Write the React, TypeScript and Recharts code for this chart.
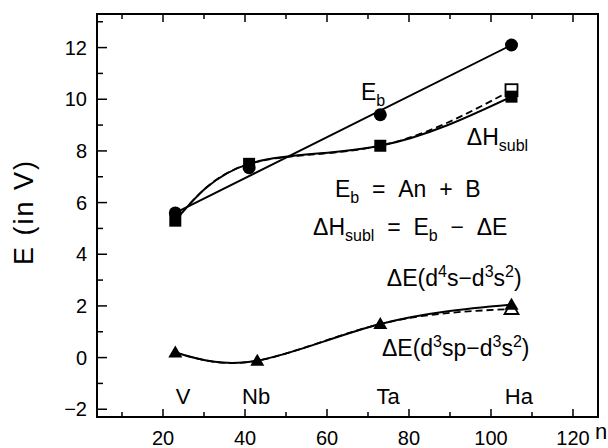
import { ComposedChart, Line, XAxis, YAxis, ReferenceDot, Label } from 'recharts';

// element positions (atomic number n)
const elementN = [23, 41, 73, 105];
const ebValues = [5.6, 7.35, 9.4, 12.1];
const fitN = [23, 105];
const fitValues = [5.6, 12.1];
const sublValues = [5.3, 7.5, 8.2, 10.1];
const sublAltValues = [5.3, 7.5, 8.2, 10.35];
const deN = [23, 43, 73, 105];
const deValues = [0.2, -0.12, 1.3, 2.05];
const deAltValues = [0.2, -0.12, 1.3, 1.88];

const elementLabels = ['V', 'Nb', 'Ta', 'Ha'];
const elementLabelN = [24.9, 42.7, 74.9, 106.8];
const elementLabelY = -1.5;

const xDomain = [3.9, 126.1];
const yDomain = [-2.3, 13.3];
const xTicks = [10, 20, 30, 40, 50, 60, 70, 80, 90, 100, 110, 120];
const yTicks = [-2, -1, 0, 1, 2, 3, 4, 5, 6, 7, 8, 9, 10, 11, 12, 13];

// annotation text: [text, level] level 0 normal, -1 subscript, 1 superscript
const noteN = [68.3, 94.1, 61.95, 56.6, 74.6, 73.4];
const noteY = [9.96, 8.22, 6.21, 4.74, 2.77, 0.06];
const noteText: [string, number][][] = [
  [['E', 0], ['b', -1]],
  [['ΔH', 0], ['subl', -1]],
  [['E', 0], ['b', -1], ['\u00a0\u00a0=\u00a0\u00a0An\u00a0\u00a0+\u00a0\u00a0B', 0]],
  [['ΔH', 0], ['subl', -1], ['\u00a0\u00a0=\u00a0\u00a0E', 0], ['b', -1], ['\u00a0\u00a0−\u00a0\u00a0ΔE', 0]],
  [['ΔE(d', 0], ['4', 1], ['s−d', 0], ['3', 1], ['s', 0], ['2', 1], [')', 0]],
  [['ΔE(d', 0], ['3', 1], ['sp−d', 0], ['3', 1], ['s', 0], ['2', 1], [')', 0]],
];

const font = '"Liberation Sans", Arial, sans-serif';
const PLOT_TOP = 14;

const pts = (ns: number[], vs: number[]) => ns.map((n, i) => ({ n, v: vs[i] }));

const circleDot = (p: any) => <circle key={p.index} cx={p.cx} cy={p.cy} r={6.5} fill="#000" />;
const squareDot = (p: any) => (
  <rect key={p.index} x={p.cx - 6} y={p.cy - 6} width={12} height={12} fill="#000" />
);
const triPath = (cx: number, cy: number) =>
  `M${cx},${cy - 7} L${cx + 7},${cy + 5} L${cx - 7},${cy + 5} Z`;
const triDot = (p: any) => <path key={p.index} d={triPath(p.cx, p.cy)} fill="#000" />;
const openSquareLast = (p: any) =>
  p.index === 3 ? (
    <rect key={p.index} x={p.cx - 6} y={p.cy - 6} width={12} height={12} fill="#fff" stroke="#000" strokeWidth={1.8} />
  ) : (
    <g key={p.index} />
  );
const openTriLast = (p: any) =>
  p.index === 3 ? (
    <path key={p.index} d={triPath(p.cx, p.cy)} fill="#fff" stroke="#000" strokeWidth={1.8} />
  ) : (
    <g key={p.index} />
  );

// bottom ticks, mirrored onto the top frame
const BottomTick = (p: any) => {
  const v = p.payload.value;
  const major = v % 20 === 0;
  const len = major ? 8 : 5;
  return (
    <g>
      <line x1={p.x} x2={p.x} y1={p.y} y2={p.y - len} stroke="#000" strokeWidth={1.5} />
      <line x1={p.x} x2={p.x} y1={PLOT_TOP} y2={PLOT_TOP + len} stroke="#000" strokeWidth={1.5} />
      {major && (
        <text x={p.x} y={p.y + 28} textAnchor="middle" fontSize={20} fontFamily={font} fill="#000">
          {v}
        </text>
      )}
    </g>
  );
};
const LeftTick = (p: any) => {
  const v = p.payload.value;
  const major = v % 2 === 0;
  return (
    <g>
      <line x1={p.x} x2={p.x + (major ? 10 : 6)} y1={p.y} y2={p.y} stroke="#000" strokeWidth={1.5} />
      {major && (
        <text x={p.x - 10} y={p.y + 7} textAnchor="end" fontSize={20} fontFamily={font} fill="#000">
          {v < 0 ? `−${-v}` : v}
        </text>
      )}
    </g>
  );
};
const RightTick = (p: any) => {
  const major = p.payload.value % 2 === 0;
  return <line x1={p.x - (major ? 10 : 6)} x2={p.x} y1={p.y} y2={p.y} stroke="#000" strokeWidth={1.5} />;
};

const offset = (lvl: number) => (lvl < 0 ? 6 : lvl > 0 ? -9 : 0);

const Note = ({ cx, cy, segs }: any) => {
  let prev = 0;
  return (
    <text x={cx} y={cy} fontSize={23} fontFamily={font} fill="#000">
      {segs.map(([t, lvl]: [string, number], i: number) => {
        const dy = offset(lvl) - offset(prev);
        prev = lvl;
        return (
          <tspan key={i} dy={dy} fontSize={lvl === 0 ? 23 : 16}>
            {t}
          </tspan>
        );
      })}
    </text>
  );
};

export default function App() {
  return (
    <div style={{ position: 'absolute', left: 0, top: 0, width: 608, height: 448, background: '#fff' }}>
      <ComposedChart width={608} height={448} margin={{ top: PLOT_TOP, right: 10, left: 0, bottom: 0 }}>
        <XAxis
          xAxisId="b"
          dataKey="n"
          type="number"
          domain={xDomain}
          ticks={xTicks}
          interval={0}
          height={31}
          tickSize={0}
          tickMargin={0}
          tickLine={false}
          axisLine={{ stroke: '#000', strokeWidth: 2 }}
          tick={BottomTick}
          label={
            <Label
              content={(props: any) => {
                const vb = props.viewBox;
                return (
                  <g>
                    {/* whole frame around the plot area */}
                    <rect
                      x={vb.x}
                      y={PLOT_TOP}
                      width={vb.width}
                      height={vb.y - PLOT_TOP}
                      fill="none"
                      stroke="#000"
                      strokeWidth={2}
                    />
                    <text x={vb.x + vb.width - 3} y={vb.y + 22} fontSize={22} fontFamily={font} fill="#000">
                      n
                    </text>
                  </g>
                );
              }}
            />
          }
        />
        <YAxis
          yAxisId="l"
          type="number"
          domain={yDomain}
          ticks={yTicks}
          interval={0}
          width={97}
          tickSize={0}
          tickMargin={0}
          tickLine={false}
          axisLine={{ stroke: '#000', strokeWidth: 2 }}
          tick={LeftTick}
          label={
            <Label
              content={() => (
                <text
                  x={24}
                  y={212}
                  transform="rotate(-90, 24, 212)"
                  textAnchor="middle"
                  dominantBaseline="central"
                  fontSize={27}
                  letterSpacing={2}
                  fontFamily={font}
                  fill="#000"
                >
                  E (in V)
                </text>
              )}
            />
          }
        />
        <YAxis
          yAxisId="r"
          orientation="right"
          type="number"
          domain={yDomain}
          ticks={yTicks}
          interval={0}
          width={0}
          tickSize={0}
          tickMargin={0}
          tickLine={false}
          axisLine={{ stroke: '#000', strokeWidth: 2 }}
          tick={RightTick}
        />

        <Line xAxisId="b" yAxisId="l" data={pts(fitN, fitValues)} dataKey="v" type="linear" stroke="#000" strokeWidth={2} dot={false} isAnimationActive={false} />
        <Line xAxisId="b" yAxisId="l" data={pts(elementN, ebValues)} dataKey="v" stroke="none" dot={circleDot} isAnimationActive={false} />
        <Line xAxisId="b" yAxisId="l" data={pts(elementN, sublAltValues)} dataKey="v" type="natural" stroke="#000" strokeWidth={1.8} strokeDasharray="7 4" dot={openSquareLast} isAnimationActive={false} />
        <Line xAxisId="b" yAxisId="l" data={pts(elementN, sublValues)} dataKey="v" type="natural" stroke="#000" strokeWidth={2} dot={squareDot} isAnimationActive={false} />
        <Line xAxisId="b" yAxisId="l" data={pts(deN, deAltValues)} dataKey="v" type="natural" stroke="#000" strokeWidth={1.8} strokeDasharray="7 4" dot={openTriLast} isAnimationActive={false} />
        <Line xAxisId="b" yAxisId="l" data={pts(deN, deValues)} dataKey="v" type="natural" stroke="#000" strokeWidth={2} dot={triDot} isAnimationActive={false} />

        {elementLabels.map((t, i) => (
          <ReferenceDot
            key={t}
            xAxisId="b"
            yAxisId="l"
            x={elementLabelN[i]}
            y={elementLabelY}
            r={0}
            shape={(p: any) => (
              <text x={p.cx} y={p.cy} textAnchor="middle" dominantBaseline="central" fontSize={22} fontFamily={font} fill="#000">
                {t}
              </text>
            )}
          />
        ))}
        {noteText.map((segs, i) => (
          <ReferenceDot
            key={i}
            xAxisId="b"
            yAxisId="l"
            x={noteN[i]}
            y={noteY[i]}
            r={0}
            shape={(p: any) => <Note cx={p.cx} cy={p.cy} segs={segs} />}
          />
        ))}
      </ComposedChart>
      <div style={{ position: 'absolute', left: 96, top: PLOT_TOP - 1, width: 503, height: 0, borderTop: '2px solid #000' }} />
    </div>
  );
}
